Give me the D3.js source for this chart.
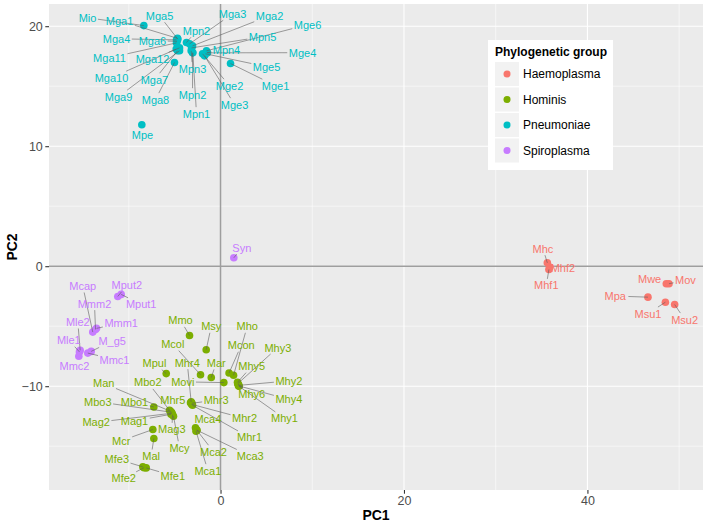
<!DOCTYPE html>
<html><head><meta charset="utf-8">
<script src="https://cdn.jsdelivr.net/npm/d3@7"></script>
<style>body{margin:0;background:#fff}</style>
</head><body><svg id="c" width="708" height="527"></svg>
<script>
const groups = ["Haemoplasma","Hominis","Pneumoniae","Spiroplasma"];
const groupColors = ["#F8766D","#7CAE00","#00BFC4","#C77CFF"];

const names = [
 "Mio","Mga1","Mga5","Mga4","Mga6","Mga11","Mga12","Mga10","Mga7","Mga9","Mga8","Mga3","Mga2","Mpn2","Mge6","Mpn5","Mpn4","Mge4","Mge5","Mge1","Mge2","Mge3","Mpn3","Mpn2","Mpn1","Mpe",
 "Mmo","Msy","Mho","Mcol","Mcon","Mpul","Mhr4","Mar","Movi","Mhy3","Mhy5","Mhy2","Mhy6","Mhy4","Mhy1","Man","Mbo2","Mbo3","Mbo1","Mhr5","Mhr3","Mag2","Mag1","Mhr2","Mhr1","Mag3","Mcr","Mcy","Mca4","Mal","Mca2","Mca3","Mca1","Mfe3","Mfe1","Mfe2",
 "Mcap","Mmm2","Mmm1","Mput2","Mput1","Mle2","Mle1","Mmc2","M_g5","Mmc1","Syn",
 "Mhc","Mhf2","Mhf1","Mwe","Mov","Mpa","Msu1","Msu2"
];
const groupOf = [
 "Pneumoniae","Pneumoniae","Pneumoniae","Pneumoniae","Pneumoniae","Pneumoniae","Pneumoniae","Pneumoniae","Pneumoniae","Pneumoniae","Pneumoniae","Pneumoniae","Pneumoniae","Pneumoniae","Pneumoniae","Pneumoniae","Pneumoniae","Pneumoniae","Pneumoniae","Pneumoniae","Pneumoniae","Pneumoniae","Pneumoniae","Pneumoniae","Pneumoniae","Pneumoniae",
 "Hominis","Hominis","Hominis","Hominis","Hominis","Hominis","Hominis","Hominis","Hominis","Hominis","Hominis","Hominis","Hominis","Hominis","Hominis","Hominis","Hominis","Hominis","Hominis","Hominis","Hominis","Hominis","Hominis","Hominis","Hominis","Hominis","Hominis","Hominis","Hominis","Hominis","Hominis","Hominis","Hominis","Hominis","Hominis","Hominis",
 "Spiroplasma","Spiroplasma","Spiroplasma","Spiroplasma","Spiroplasma","Spiroplasma","Spiroplasma","Spiroplasma","Spiroplasma","Spiroplasma","Spiroplasma",
 "Haemoplasma","Haemoplasma","Haemoplasma","Haemoplasma","Haemoplasma","Haemoplasma","Haemoplasma","Haemoplasma"
];
const pc1 = [
 -8.36,-4.69,-4.66,-4.80,-4.74,-4.80,-4.47,-4.83,-4.69,-4.47,-5.02,-3.38,-3.05,-3.71,-1.53,-3.16,-1.49,-1.42,-1.64,1.09,-1.96,-1.74,-3.20,-3.05,-3.02,-8.58,
 -3.38,-1.56,1.42,-2.18,0.93,-5.92,-3.20,-1.01,0.36,1.89,1.85,2.00,1.91,1.96,2.02,-5.45,-5.56,-5.34,-7.27,-3.27,-3.11,-5.29,-5.40,-3.16,-3.05,-5.23,-7.38,-5.13,-2.73,-7.27,-2.62,-2.56,-2.67,-8.47,-8.10,-8.34,
 -13.93,-13.63,-13.52,-11.20,-10.83,-15.30,-15.38,-15.45,-14.10,-14.47,1.45,
 35.63,35.88,35.80,48.60,48.89,46.60,48.50,49.51
];
const pc2 = [
 20.05,18.99,18.92,18.86,18.74,18.61,18.19,18.09,17.95,17.95,16.97,18.53,18.36,18.64,17.95,18.19,17.80,17.78,17.70,16.89,17.70,17.53,17.95,17.78,17.80,11.79,
 -5.77,-6.96,-9.09,-9.04,-8.90,-8.95,-11.31,-9.28,-9.70,-9.78,-9.68,-9.93,-9.84,-9.97,-10.01,-12.09,-12.00,-12.17,-11.73,-11.38,-11.42,-12.25,-12.34,-11.51,-11.59,-12.38,-13.61,-12.50,-13.46,-14.36,-13.63,-13.67,-13.75,-16.72,-16.81,-16.79,
 -5.49,-5.27,-5.18,-2.52,-2.35,-7.01,-7.14,-7.51,-7.10,-7.24,0.70,
 0.28,-0.08,-0.27,-1.46,-1.46,-2.58,-3.00,-3.19
];
const labelPC1 = [
 -14.50,-11.01,-6.65,-11.34,-7.42,-12.10,-7.42,-11.89,-7.20,-11.12,-7.09,1.31,5.34,-2.62,9.49,4.58,0.65,8.94,5.02,6.00,0.98,1.53,-3.05,-3.05,-2.62,-8.51,
 -4.36,-1.01,2.91,-5.20,2.26,-7.20,-3.63,-0.47,-4.11,6.25,3.41,7.45,3.41,7.45,6.98,-12.73,-7.93,-13.38,-9.38,-5.20,-0.47,-13.56,-9.38,2.62,3.16,-5.31,-10.83,-4.47,-1.38,-7.56,-0.76,3.24,-1.38,-11.31,-5.20,-10.55,
 -15.02,-13.74,-10.83,-10.22,-8.65,-15.56,-16.54,-15.92,-11.81,-11.56,2.32,
 35.15,37.33,35.52,46.78,50.68,43.04,46.60,50.60
];
const labelPC2 = [
 20.69,20.44,20.86,18.94,18.78,17.36,17.28,15.70,15.53,14.12,13.87,21.02,20.86,19.61,20.11,19.11,18.03,17.78,16.61,15.03,15.03,13.45,16.45,14.28,12.70,10.96,
 -4.52,-5.02,-5.02,-6.51,-6.60,-8.09,-8.05,-8.07,-9.65,-6.79,-8.34,-9.57,-10.70,-11.11,-12.70,-9.78,-9.70,-11.31,-11.31,-11.17,-11.17,-13.03,-12.90,-12.70,-14.28,-13.61,-14.56,-15.14,-12.78,-15.83,-15.47,-15.83,-17.05,-16.08,-17.47,-17.69,
 -1.66,-3.13,-4.74,-1.61,-3.19,-4.66,-6.18,-8.34,-6.24,-7.79,1.53,
 1.45,-0.13,-1.61,-1.11,-1.19,-2.50,-3.96,-4.46
];
const xTicks = [0, 20, 40];
const xMinor = [-10, 10, 30, 50];
const yTicks = [-10, 0, 10, 20];
const yMinor = [-15, -5, 5, 15];

const svg = d3.select("#c");
const P = {l: 49, r: 703, t: 4, b: 490};
const x = d3.scaleLinear().domain([-18.7, 52.6]).range([P.l, P.r]);
const y = d3.scaleLinear().domain([-18.65, 21.85]).range([P.b, P.t]);
const color = d3.scaleOrdinal().domain(groups).range(groupColors);
const font = "'Liberation Sans', Arial, Helvetica, sans-serif";

svg.append("rect").attr("x", P.l).attr("y", P.t).attr("width", P.r - P.l).attr("height", P.b - P.t).attr("fill", "#EBEBEB");
const g = svg.append("g");
xMinor.forEach(v => g.append("line").attr("x1", x(v)).attr("x2", x(v)).attr("y1", P.t).attr("y2", P.b).attr("stroke", "#fff").attr("stroke-width", 0.55));
yMinor.forEach(v => g.append("line").attr("y1", y(v)).attr("y2", y(v)).attr("x1", P.l).attr("x2", P.r).attr("stroke", "#fff").attr("stroke-width", 0.55));
xTicks.forEach(v => g.append("line").attr("x1", x(v)).attr("x2", x(v)).attr("y1", P.t).attr("y2", P.b).attr("stroke", "#fff").attr("stroke-width", 1.1));
yTicks.forEach(v => g.append("line").attr("y1", y(v)).attr("y2", y(v)).attr("x1", P.l).attr("x2", P.r).attr("stroke", "#fff").attr("stroke-width", 1.1));

// zero lines
g.append("line").attr("x1", x(0)).attr("x2", x(0)).attr("y1", P.t).attr("y2", P.b).attr("stroke", "#9E9E9E").attr("stroke-width", 1.5);
g.append("line").attr("y1", y(0)).attr("y2", y(0)).attr("x1", P.l).attr("x2", P.r).attr("stroke", "#9E9E9E").attr("stroke-width", 1.5);

// axes
const xAxis = d3.axisBottom(x).tickValues(xTicks).tickSize(3.7).tickPadding(2.5).tickFormat(d3.format("d"));
const yAxis = d3.axisLeft(y).tickValues(yTicks).tickSize(3.7).tickPadding(2.5).tickFormat(d => d < 0 ? "\u2212" + Math.abs(d) : d);
const gx = svg.append("g").attr("transform", `translate(0,${P.b})`).call(xAxis);
const gy = svg.append("g").attr("transform", `translate(${P.l},0)`).call(yAxis);
[gx, gy].forEach(a => {
  a.select(".domain").remove();
  a.selectAll(".tick line").attr("stroke", "#333").attr("stroke-width", 1.1);
  a.selectAll(".tick text").attr("fill", "#4D4D4D").style("font-family", font).style("font-size", "12.5px");
});
svg.append("text").attr("x", (P.l + P.r) / 2).attr("y", 520).attr("text-anchor", "middle")
  .style("font-family", font).style("font-size", "14px").style("font-weight", "bold").text("PC1");
svg.append("text").attr("transform", `translate(17,${(P.t + P.b) / 2}) rotate(-90)`).attr("text-anchor", "middle")
  .style("font-family", font).style("font-size", "14px").style("font-weight", "bold").text("PC2");

// data
const data = names.map((n, i) => ({name: n, group: groupOf[i], x: pc1[i], y: pc2[i], lx: labelPC1[i], ly: labelPC2[i]}));

// points
svg.append("g").selectAll("circle").data(data).join("circle")
  .attr("cx", d => x(d.x)).attr("cy", d => y(d.y)).attr("r", 3.8).attr("fill", d => color(d.group));

// labels
const segG = svg.append("g");
const labG = svg.append("g");
data.forEach(d => {
  const t = labG.append("text").attr("x", x(d.lx)).attr("y", y(d.ly)).attr("dy", "0.35em")
    .attr("text-anchor", "middle").attr("fill", color(d.group))
    .style("font-family", font).style("font-size", "11px").text(d.name);
  const b = t.node().getBBox();
  const pad = 1.5;
  const x0 = b.x - pad, x1 = b.x + b.width + pad, y0 = b.y + 1 - pad, y1 = b.y + b.height - 1 + pad;
  const cx = x(d.lx), cy = (y0 + y1) / 2;
  const px = x(d.x), py = y(d.y);
  if (px >= x0 && px <= x1 && py >= y0 && py <= y1) return;
  const dx = px - cx, dy = py - cy;
  let tmax = Infinity;
  if (dx > 0) tmax = Math.min(tmax, (x1 - cx) / dx); else if (dx < 0) tmax = Math.min(tmax, (x0 - cx) / dx);
  if (dy > 0) tmax = Math.min(tmax, (y1 - cy) / dy); else if (dy < 0) tmax = Math.min(tmax, (y0 - cy) / dy);
  const sx = cx + dx * tmax, sy = cy + dy * tmax;
  if (Math.hypot(px - sx, py - sy) < 4) return;
  segG.append("line").attr("x1", sx).attr("y1", sy).attr("x2", px).attr("y2", py)
    .attr("stroke", "#5E5E5E").attr("stroke-width", 0.6);
});

// legend
const L = {x: 488, y: 40, w: 125, h: 130};
const lg = svg.append("g");
lg.append("rect").attr("x", L.x).attr("y", L.y).attr("width", L.w).attr("height", L.h).attr("fill", "#fff");
lg.append("text").attr("x", L.x + 7).attr("y", L.y + 12).attr("dy", "0.35em")
  .style("font-family", font).style("font-size", "12px").style("font-weight", "bold").attr("fill", "#000").text("Phylogenetic group");
groups.forEach((grp, i) => {
  const ky = L.y + 22 + i * 25.5;
  lg.append("rect").attr("x", L.x + 7).attr("y", ky).attr("width", 24).attr("height", 24).attr("fill", "#F2F2F2");
  lg.append("circle").attr("cx", L.x + 19).attr("cy", ky + 12).attr("r", 3.5).attr("fill", color(grp));
  lg.append("text").attr("x", L.x + 35).attr("y", ky + 12).attr("dy", "0.35em")
    .style("font-family", font).style("font-size", "12px").attr("fill", "#000").text(grp);
});
</script></body></html>
